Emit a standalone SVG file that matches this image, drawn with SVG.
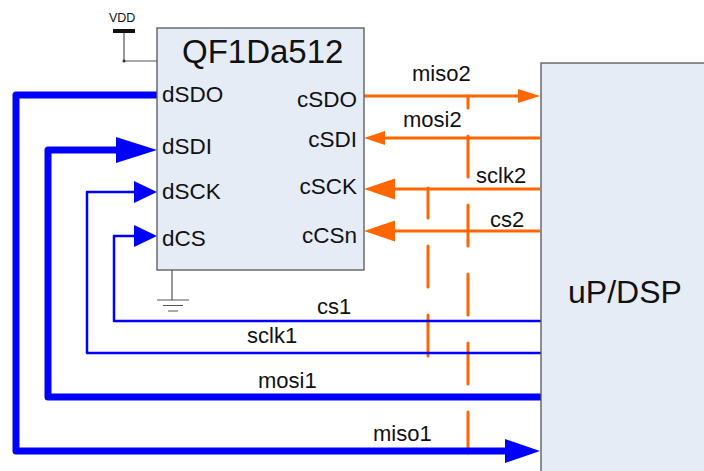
<svg xmlns="http://www.w3.org/2000/svg" width="704" height="471" viewBox="0 0 704 471">
<style>
.box{fill:#e6ecf6;stroke:#555;stroke-width:1.3}
.t{font-family:"Liberation Sans",Arial,sans-serif;fill:#111}
.pin{font-size:22.5px}
.lab{font-size:22px}
.b{fill:none;stroke:#0000ff;stroke-linejoin:round;stroke-linecap:round}
.bt{stroke-width:7}
.bn{stroke-width:2.5}
.o{fill:none;stroke:#ff6600;stroke-width:3}
.od{fill:none;stroke:#ff6600;stroke-width:3;stroke-linecap:round;stroke-dasharray:41 28}
.ba{fill:#0000ff}
.oa{fill:#ff6600}
.g{fill:none;stroke:#555;stroke-width:1.2}
</style>
<rect width="704" height="471" fill="#fff"/>
<g id="connectors">
  <!-- orange dashed verticals -->
  <path class="od" d="M468,453 V96"/>
  <path class="od" d="M428,356 V188"/>
  <!-- blue SPI 1 -->
  <path class="b bt" d="M157,95 H16 V451 H507"/>
  <polygon class="ba" points="505,439 540,451 505,463"/>
  <path class="b bt" d="M540,397 H48 V150 H118"/>
  <polygon class="ba" points="116,137 157,150 116,163"/>
  <path class="b bn" d="M540,353 H87 V192 H136"/>
  <polygon class="ba" points="134,181 157,192 134,203"/>
  <path class="b bn" d="M540,321 H114 V236 H136"/>
  <polygon class="ba" points="134,225 157,236 134,247"/>
  <!-- orange SPI 2 -->
  <path class="o" d="M364,96 H520"/>
  <polygon class="oa" points="518,89 540,96 518,103"/>
  <path class="o" d="M540,138 H383"/>
  <polygon class="oa" points="385,131 364,138 385,145"/>
  <path class="o" d="M540,189 H393"/>
  <polygon class="oa" points="395,178.5 364,189 395,199.5"/>
  <path class="o" d="M540,231 H393"/>
  <polygon class="oa" points="395,220.5 364,231 395,241.5"/>
  <!-- labels -->
  <text class="t lab" x="412" y="81">miso2</text>
  <text class="t lab" x="403" y="127">mosi2</text>
  <text class="t lab" x="476" y="183">sclk2</text>
  <text class="t lab" x="490" y="227">cs2</text>
  <text class="t lab" x="317" y="314">cs1</text>
  <text class="t lab" x="247" y="343">sclk1</text>
  <text class="t lab" x="258" y="388">mosi1</text>
  <text class="t lab" x="373" y="441">miso1</text>
</g>
<g id="qf1da512">
  <rect class="box" x="157" y="28" width="207" height="242"/>
  <text class="t" x="182" y="63" font-size="33">QF1Da512</text>
  <text class="t pin" x="162" y="102">dSDO</text>
  <text class="t pin" x="162" y="154">dSDI</text>
  <text class="t pin" x="162" y="199">dSCK</text>
  <text class="t pin" x="162" y="246">dCS</text>
  <text class="t pin" x="357" y="107" text-anchor="end">cSDO</text>
  <text class="t pin" x="357" y="147" text-anchor="end">cSDI</text>
  <text class="t pin" x="357" y="194" text-anchor="end">cSCK</text>
  <text class="t pin" x="357" y="243" text-anchor="end">cCSn</text>
</g>
<g id="vdd">
  <text class="t" x="109" y="22" font-size="12.5">VDD</text>
  <rect x="113" y="29" width="22" height="4" fill="#111"/>
  <path class="g" d="M124,33 V61 H157"/>
  <circle cx="124" cy="61" r="1.5" fill="#333"/>
</g>
<g id="ground">
  <path class="g" d="M172,270 V300 M157,300 H189 M163,305.5 H183 M168,311 H178"/>
</g>
<g id="updsp">
  <rect class="box" x="541" y="63" width="170" height="420"/>
  <text class="t" x="568" y="303" font-size="32">uP/DSP</text>
</g>
</svg>
